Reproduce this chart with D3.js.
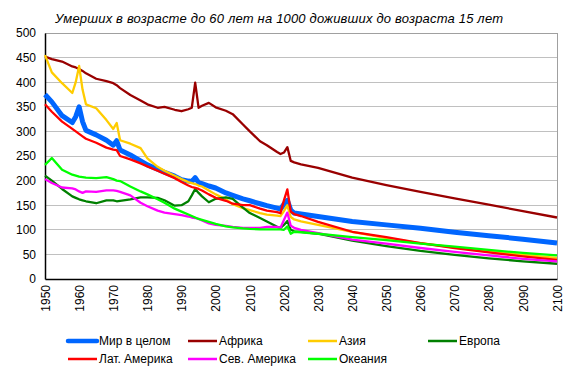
<!DOCTYPE html>
<html>
<head>
<meta charset="utf-8">
<script src="https://cdn.jsdelivr.net/npm/d3@7"></script>
<style>
  body { margin: 0; background: #fff; }
  text { font-family: "Liberation Sans", Arial, sans-serif; fill: #000; }
</style>
</head>
<body>
<div id="chart"></div>
<script>
// Data
var years = [1950,1952,1955,1958,1959,1960,1961,1962,1965,1968,1970,1971,1972,1975,1978,1980,1983,1985,1988,1990,
  1992,1993,1994,1995,1996,1998,2000,2003,2005,2008,2010,2013,2015,2018,2019,2020,2021,2022,2023,2025,
  2030,2040,2050,2060,2070,2080,2090,2100];

var world = [375,360,332,318,330,350,320,302,293,282,272,281,262,252,240,232,223,217,209,202,
  199,198,206,196,194,189,185,175,170,163,159,153,149,144,142,152,160,140,134,132,
  127,117,110,103,95,88,81,73];

var africa = [452,447,442,432,430,427,423,418,407,402,398,394,388,374,363,355,348,350,344,341,
  345,348,399,348,352,358,349,342,335,314,300,280,272,258,254,257,268,240,237,233,
  226,206,191,177,164,151,138,125];

var asia = [455,420,398,378,400,433,385,355,347,323,305,317,282,275,266,245,228,220,210,203,
  197,195,193,190,188,180,172,162,152,144,140,134,131,129,128,138,150,126,121,117,
  110,96,83,73,64,56,49,43];

var europe = [210,200,183,168,165,162,160,158,154,160,160,158,159,162,166,166,165,160,149,150,
  158,170,183,175,168,156,163,166,163,145,134,124,117,106,104,110,118,100,97,96,
  92,78,67,57,49,42,36,31];

var latam = [355,340,320,305,300,295,290,285,277,267,263,262,250,243,235,229,220,214,205,197,
  190,187,185,183,180,172,165,159,153,150,150,143,139,136,134,160,182,137,132,128,
  116,96,85,73,63,54,46,39];

var namerica = [203,195,186,184,182,178,175,178,177,180,180,179,177,170,155,148,139,135,132,130,
  127,125,124,122,119,113,110,108,106,104,104,104,106,106,104,120,135,108,104,100,
  93,80,72,63,55,48,41,36];

var oceania = [232,246,222,212,210,208,207,206,205,207,203,200,199,188,178,172,162,155,143,137,
  131,128,125,122,120,116,112,107,105,103,102,101,101,101,101,100,107,92,96,95,
  92,85,79,72,66,59,53,48];

var seriesNames = ["Мир в целом", "Африка", "Азия", "Европа", "Лат. Америка", "Сев. Америка", "Океания"];
var xTicks = [1950,1960,1970,1980,1990,2000,2010,2020,2030,2040,2050,2060,2070,2080,2090,2100];
var yTicks = [0,50,100,150,200,250,300,350,400,450,500];
var title = "Умерших  в  возрасте  до  60  лет  на  1000  доживших  до  возраста  15  лет";

var allSeries = [world, africa, asia, europe, latam, namerica, oceania];
var colors = ["#0066ff", "#990000", "#ffcc00", "#008000", "#ff0000", "#ff00ff", "#00ff00"];
var widths = [5, 2.3, 2.3, 2.3, 2.3, 2.3, 2.3];

var svgWidth = 573, svgHeight = 371;
var margin = {top: 33, right: 16, bottom: 92, left: 45};
var width = svgWidth - margin.left - margin.right;
var height = svgHeight - margin.top - margin.bottom;

var svg = d3.select("#chart").append("svg")
  .attr("width", svgWidth)
  .attr("height", svgHeight);

var chartGroup = svg.append("g")
  .attr("transform", `translate(${margin.left}, ${margin.top})`);

var x = d3.scaleLinear().domain([1950, 2100]).range([0, width]);
var y = d3.scaleLinear().domain([0, 500]).range([height, 0]);

// grid
chartGroup.append("g")
  .selectAll("line")
  .data(yTicks.filter(d => d > 0 && d < 500))
  .enter().append("line")
  .attr("x1", 0).attr("x2", width)
  .attr("y1", d => y(d)).attr("y2", d => y(d))
  .attr("stroke", "#c0c0c0").attr("stroke-width", 1)
  .attr("shape-rendering", "crispEdges");

// frame (top/right grey)
chartGroup.append("path")
  .attr("d", `M0,0H${width}V${height}`)
  .attr("fill", "none").attr("stroke", "#a0a0a0")
  .attr("shape-rendering", "crispEdges");

// axes
var leftAxis = d3.axisLeft(y).tickValues(yTicks).tickSize(0).tickPadding(9);
var bottomAxis = d3.axisBottom(x).tickValues(xTicks).tickSize(0).tickFormat(d3.format("d"));

var gy = chartGroup.append("g").call(leftAxis);
gy.select(".domain").attr("stroke", "#000").attr("stroke-width", 1.5);
gy.selectAll("text").style("font-size", "12px").style("font-family", "Liberation Sans, Arial");

var gx = chartGroup.append("g")
  .attr("transform", `translate(0, ${height})`)
  .call(bottomAxis);
gx.select(".domain").attr("stroke", "#000").attr("stroke-width", 1.5);
gx.selectAll("text")
  .style("font-size", "12px").style("font-family", "Liberation Sans, Arial")
  .attr("text-anchor", "end")
  .attr("dy", "0.35em")
  .attr("transform", "translate(0, 6) rotate(-90)")
  .attr("x", 0).attr("y", 0);

// lines
var line = d3.line()
  .x((d, i) => x(years[i]))
  .y(d => y(d));

chartGroup.append("g")
  .selectAll("path")
  .data(allSeries)
  .enter().append("path")
  .attr("d", d => line(d))
  .attr("fill", "none")
  .attr("stroke", (d, i) => colors[i])
  .attr("stroke-width", (d, i) => widths[i])
  .attr("stroke-linejoin", "round");

// title
svg.append("text")
  .attr("x", 55).attr("y", 23)
  .attr("textLength", 448)
  .attr("lengthAdjust", "spacing")
  .style("font-size", "13px")
  .style("font-style", "italic")
  .text(title);

// legend
var legend = svg.append("g").attr("transform", "translate(68, 341)");
var items = legend.selectAll("g")
  .data(seriesNames)
  .enter().append("g")
  .attr("transform", (d, i) => `translate(${(i % 4) * 120}, ${Math.floor(i / 4) * 18})`);

items.append("line")
  .attr("x1", 0).attr("x2", 29).attr("y1", 0).attr("y2", 0)
  .attr("stroke", (d, i) => colors[i])
  .attr("stroke-width", (d, i) => i === 0 ? 4.5 : 2.5)
  .attr("stroke-linecap", (d, i) => i === 0 ? "round" : "butt");

items.append("text")
  .attr("x", 31).attr("y", 0).attr("dy", "0.35em")
  .style("font-size", "12px")
  .text(d => d);
</script>
</body>
</html>
